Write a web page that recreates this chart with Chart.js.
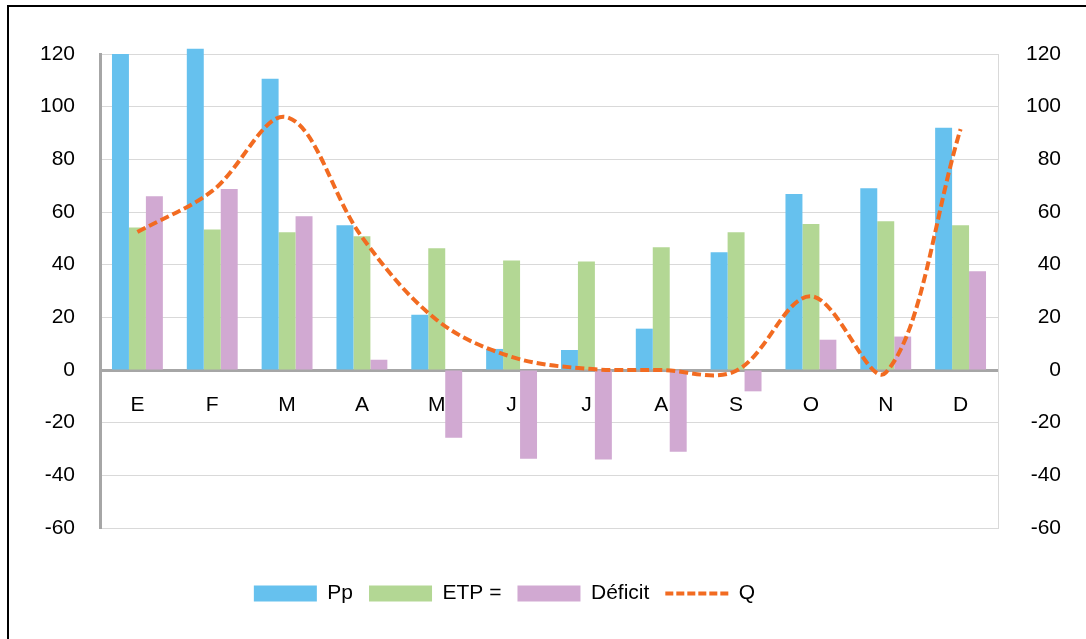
<!DOCTYPE html>
<html>
<head>
<meta charset="utf-8">
<script src="https://cdn.jsdelivr.net/npm/chart.js@4/dist/chart.umd.min.js"></script>
<style>
  html, body { margin: 0; padding: 0; background: #ffffff; }
  #frame { position: absolute; left: 7px; top: 5px; right: 0; bottom: 0; border-top: 2px solid #000; border-left: 2px solid #000; }
  #wrap { position: absolute; left: 0; top: 0; width: 1086px; height: 639px; }
</style>
</head>
<body>
<div id="frame"></div>
<div id="wrap"><canvas id="c" width="1086" height="639"></canvas></div>
<script>
const months = ['E', 'F', 'M', 'A', 'M', 'J', 'J', 'A', 'S', 'O', 'N', 'D'];
const pp      = [120, 122, 110.6, 55, 21, 8, 7.6, 15.7, 44.7, 66.8, 69, 92];
const etp     = [54.1, 53.4, 52.3, 50.8, 46.2, 41.6, 41.2, 46.6, 52.3, 55.4, 56.5, 55];
const deficit = [66, 68.7, 58.4, 3.9, -25.7, -33.7, -34, -31, -8.1, 11.5, 12.7, 37.5];
const q       = [52.4, 68, 96, 50.5, 19, 5, 0.5, 0, -0.3, 28, -1, 91.5];
const seriesNames = ['Pp', 'ETP =', 'Déficit', 'Q'];
const yTicks = [-60, -40, -20, 0, 20, 40, 60, 80, 100, 120];

const C_PP = '#66C1EE', C_ETP = '#B3D794', C_DEF = '#D1A9D2', C_Q = '#F26B21';
const AXIS = '#A6A6A6', GRID = '#D9D9D9';

Chart.defaults.font.family = '"Liberation Sans", Arial, sans-serif';
Chart.defaults.color = '#000';

const legendShift = {
  id: 'legendShift',
  afterLayout(chart) {
    const lg = chart.legend;
    if (lg) { lg.left -= 26; lg.right -= 26; }
  }
};

new Chart(document.getElementById('c'), {
  data: {
    labels: months,
    datasets: [
      { type: 'bar', label: seriesNames[0], data: pp, backgroundColor: C_PP, borderWidth: 0, xAxisID: 'x', yAxisID: 'y', categoryPercentage: 0.68, barPercentage: 1.0, clip: false },
      { type: 'bar', label: seriesNames[1], data: etp, backgroundColor: C_ETP, borderWidth: 0, xAxisID: 'x', yAxisID: 'y', categoryPercentage: 0.68, barPercentage: 1.0 },
      { type: 'bar', label: seriesNames[2], data: deficit, backgroundColor: C_DEF, borderWidth: 0, xAxisID: 'x', yAxisID: 'y', categoryPercentage: 0.68, barPercentage: 1.0 },
      { type: 'line', label: seriesNames[3], data: q, borderColor: C_Q, backgroundColor: C_Q, borderWidth: 4, borderDash: [9, 4], pointRadius: 0, pointHoverRadius: 0, tension: 0.35, fill: false, order: -1, xAxisID: 'x', yAxisID: 'y' }
    ]
  },
  options: {
    responsive: false,
    animation: false,
    devicePixelRatio: 1,
    layout: { padding: { left: 0, right: 25, top: 54, bottom: 25 } },
    plugins: {
      tooltip: { enabled: false },
      legend: {
        position: 'bottom',
        labels: {
          usePointStyle: true,
          pointStyleWidth: 63,
          boxHeight: 16,
          padding: 16,
          color: '#000',
          font: { size: 21 },
          generateLabels(chart) {
            const items = Chart.defaults.plugins.legend.labels.generateLabels(chart);
            items.sort((a, b) => a.datasetIndex - b.datasetIndex);
            items.forEach(it => {
              const ds = chart.data.datasets[it.datasetIndex];
              if (ds.type === 'line') {
                it.pointStyle = 'line'; it.lineWidth = 4; it.strokeStyle = C_Q; it.lineDash = [8, 3];
              } else {
                it.pointStyle = 'rect'; it.lineWidth = 0;
              }
            });
            return items;
          }
        }
      }
    },
    scales: {
      x: {
        type: 'category',
        position: { y: 0 },
        grid: { display: false, drawTicks: false },
        border: { display: true, color: AXIS, width: 3 },
        ticks: { padding: 23, font: { size: 21 }, autoSkip: false, maxRotation: 0 }
      },
      x2: {
        type: 'category',
        position: 'bottom',
        grid: { display: false, drawTicks: false },
        border: { display: false },
        ticks: { display: false },
        afterFit(s) { s.height = 39; }
      },
      y: {
        position: 'left',
        min: -60, max: 120,
        afterBuildTicks(s) { s.ticks = yTicks.map(v => ({ value: v })); },
        grid: { color: GRID, lineWidth: 1, drawTicks: false },
        border: { color: AXIS, width: 3 },
        ticks: { padding: 25, font: { size: 21 } },
        afterFit(s) { s.width = 100; }
      },
      y2: {
        position: 'right',
        min: -60, max: 120,
        afterBuildTicks(s) { s.ticks = yTicks.map(v => ({ value: v })); },
        grid: { display: false, drawTicks: false },
        border: { color: GRID, width: 1 },
        ticks: { padding: 25, font: { size: 21 }, crossAlign: 'far' },
        afterFit(s) { s.width = 63; }
      }
    }
  },
  plugins: [legendShift]
});
</script>
</body>
</html>
